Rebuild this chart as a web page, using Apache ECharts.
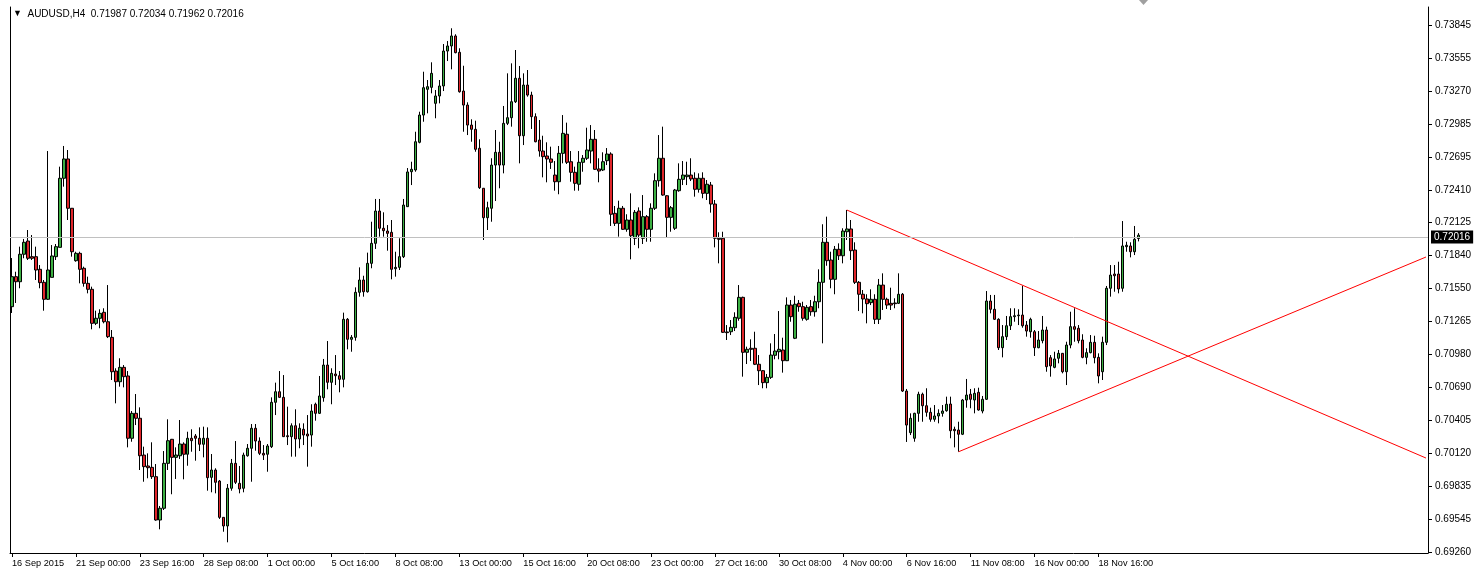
<!DOCTYPE html>
<html><head><meta charset="utf-8">
<script src="https://cdn.jsdelivr.net/npm/echarts@6/dist/echarts.min.js"></script>
<style>html,body{margin:0;padding:0;background:#fff;}#c{width:1477px;height:581px;}</style>
</head><body><div id="c"></div>
<script>
// AUDUSD H4 candles (first bar 16 Sep 2015 08:00)
const open = [0.71394,0.71655,0.71611,0.71850,0.71965,0.71829,0.71829,0.71719,0.71606,0.71458,
0.71649,0.71829,0.71910,0.72511,0.72679,0.72250,0.71794,0.71858,0.71728,0.71597,
0.71545,0.71249,0.71293,0.71345,0.71263,0.71127,0.70834,0.70741,0.70866,0.70791,
0.70249,0.70466,0.70423,0.70103,0.70008,0.69996,0.69915,0.69538,0.69640,0.70031,
0.70240,0.70083,0.70097,0.70199,0.70110,0.70249,0.70269,0.70249,0.70197,0.70249,
0.69909,0.69973,0.69877,0.69561,0.69486,0.69814,0.70031,0.69857,0.69814,0.70097,
0.70162,0.70336,0.70225,0.70118,0.70110,0.70176,0.70562,0.70654,0.70605,0.70271,
0.70263,0.70358,0.70243,0.70327,0.70286,0.70277,0.70545,0.70466,0.70602,0.70886,
0.70736,0.70808,0.70793,0.70762,0.71284,0.71110,0.71127,0.71519,0.71626,0.71524,
0.71771,0.71945,0.72226,0.72076,0.72052,0.72041,0.71724,0.71736,0.71829,0.72264,
0.72568,0.72583,0.72824,0.73061,0.73285,0.73302,0.73163,0.73227,0.73314,0.73618,
0.73662,0.73749,0.73607,0.73270,0.73148,0.72974,0.72937,0.72772,0.72424,0.72168,
0.72250,0.72626,0.72737,0.72626,0.72989,0.73038,0.73177,0.73381,0.72881,0.73322,
0.73235,0.73047,0.72844,0.72748,0.72705,0.72679,0.72539,0.72481,0.72728,0.72894,
0.72655,0.72563,0.72459,0.72650,0.72685,0.72748,0.72850,0.72592,0.72583,0.72664,
0.72722,0.72206,0.72119,0.72250,0.72067,0.72148,0.71989,0.72226,0.71989,0.72177,
0.72067,0.72250,0.72490,0.72685,0.72359,0.72171,0.72076,0.72403,0.72502,0.72525,
0.72539,0.72511,0.72415,0.72511,0.72380,0.72452,0.72287,0.71989,0.71989,0.71174,
0.71176,0.71211,0.71293,0.71475,0.70997,0.71032,0.71032,0.70893,0.70837,0.70733,
0.70779,0.70971,0.71002,0.71017,0.70924,0.71408,0.71119,0.71423,0.71394,0.71284,
0.71394,0.71350,0.71437,0.71606,0.71954,0.71800,0.71632,0.71893,0.71837,0.72046,
0.72070,0.71887,0.71606,0.71502,0.71461,0.71429,0.71458,0.71284,0.71582,0.71458,
0.71423,0.71426,0.71423,0.71502,0.70660,0.70298,0.70249,0.70466,0.70632,0.70532,
0.70475,0.70414,0.70443,0.70466,0.70489,0.70547,0.70327,0.70321,0.70284,0.70582,
0.70632,0.70582,0.70649,0.70486,0.70588,0.71443,0.71371,0.71284,0.71037,0.71133,
0.71228,0.71307,0.71315,0.71321,0.71234,0.71176,0.71176,0.71037,0.71098,0.71191,
0.70950,0.70866,0.70945,0.70988,0.70828,0.71060,0.71220,0.71206,0.71104,0.70953,
0.70994,0.71084,0.70953,0.70828,0.71084,0.71554,0.71678,0.71678,0.71554,0.71916,
0.71922,0.71872,0.71987];
const close = [0.71655,0.71611,0.71850,0.71954,0.71815,0.71815,0.71713,0.71603,0.71458,0.71713,
0.71835,0.71916,0.72511,0.72679,0.72250,0.71872,0.71858,0.71719,0.71597,0.71545,
0.71249,0.71293,0.71336,0.71263,0.71133,0.70828,0.70741,0.70866,0.70785,0.70249,
0.70466,0.70423,0.70097,0.70002,0.69993,0.69915,0.69538,0.69640,0.70031,0.70228,
0.70083,0.70103,0.70199,0.70110,0.70249,0.70228,0.70249,0.70197,0.70249,0.69906,
0.69973,0.69866,0.69561,0.69486,0.69814,0.70031,0.69866,0.69808,0.70103,0.70162,
0.70336,0.70225,0.70118,0.70103,0.70182,0.70562,0.70654,0.70605,0.70263,0.70263,
0.70358,0.70243,0.70336,0.70277,0.70269,0.70486,0.70466,0.70617,0.70886,0.70736,
0.70814,0.70793,0.70762,0.71284,0.71110,0.71127,0.71519,0.71626,0.71524,0.71771,
0.71945,0.72226,0.72076,0.72055,0.72032,0.71719,0.71736,0.71829,0.72278,0.72566,
0.72589,0.72829,0.73061,0.73299,0.73308,0.73424,0.73227,0.73314,0.73618,0.73662,
0.73749,0.73604,0.73264,0.73148,0.72974,0.72937,0.72763,0.72429,0.72168,0.72255,
0.72626,0.72737,0.72626,0.72989,0.73038,0.73177,0.73381,0.72881,0.73322,0.73235,
0.73047,0.72829,0.72748,0.72699,0.72679,0.72650,0.72481,0.72728,0.72902,0.72650,
0.72563,0.72467,0.72650,0.72685,0.72757,0.72850,0.72589,0.72574,0.72655,0.72722,
0.72198,0.72119,0.72250,0.72067,0.72148,0.72011,0.72215,0.72017,0.72177,0.72067,
0.72250,0.72490,0.72685,0.72365,0.72171,0.72255,0.72409,0.72502,0.72539,0.72539,
0.72505,0.72415,0.72511,0.72380,0.72459,0.72287,0.71989,0.71980,0.71171,0.71168,
0.71214,0.71301,0.71475,0.70997,0.71023,0.71023,0.70893,0.70837,0.70733,0.70779,
0.70973,0.71008,0.71023,0.70924,0.71408,0.71307,0.71415,0.71394,0.71293,0.71388,
0.71350,0.71437,0.71606,0.71954,0.71794,0.71632,0.71893,0.71837,0.72052,0.72070,
0.71881,0.71606,0.71502,0.71461,0.71420,0.71458,0.71284,0.71582,0.71458,0.71408,
0.71408,0.71420,0.71502,0.70660,0.70364,0.70423,0.70466,0.70632,0.70532,0.70475,
0.70414,0.70443,0.70466,0.70486,0.70545,0.70315,0.70315,0.70284,0.70582,0.70625,
0.70588,0.70640,0.70495,0.70588,0.71443,0.71371,0.71284,0.71037,0.71133,0.71228,
0.71307,0.71315,0.71321,0.71228,0.71182,0.71284,0.71037,0.71104,0.71191,0.70872,
0.70878,0.70939,0.70988,0.70828,0.71060,0.71220,0.71197,0.71098,0.70953,0.70994,
0.71084,0.70950,0.70791,0.71084,0.71554,0.71669,0.71663,0.71548,0.71922,0.71928,
0.71872,0.71980,0.72016];
const high = [0.71817,0.71698,0.71916,0.71983,0.72061,0.72017,0.71916,0.71756,0.71626,0.72748,
0.71930,0.71939,0.72612,0.72792,0.72757,0.72252,0.71872,0.71872,0.71742,0.71655,
0.71568,0.71359,0.71371,0.71380,0.71582,0.71191,0.70858,0.70945,0.70886,0.70834,
0.70486,0.70634,0.70518,0.70176,0.70118,0.70214,0.70025,0.69660,0.70138,0.70414,
0.70243,0.70170,0.70408,0.70214,0.70306,0.70327,0.70286,0.70344,0.70350,0.70344,
0.70112,0.69988,0.69886,0.69564,0.69851,0.70069,0.70225,0.70008,0.70124,0.70199,
0.70373,0.70373,0.70257,0.70190,0.70199,0.70605,0.70733,0.70834,0.70799,0.70524,
0.70379,0.70501,0.70379,0.70379,0.70451,0.70545,0.70559,0.70791,0.70939,0.71095,
0.70858,0.70973,0.70834,0.71342,0.71295,0.71147,0.71562,0.71736,0.71663,0.71864,
0.72133,0.72331,0.72331,0.72215,0.72104,0.72148,0.71872,0.71989,0.72331,0.72600,
0.72655,0.72916,0.73090,0.73438,0.73366,0.73520,0.73279,0.73366,0.73679,0.73705,
0.73816,0.73764,0.73642,0.73490,0.73172,0.73024,0.73012,0.72850,0.72426,0.72307,
0.72685,0.72931,0.72829,0.73140,0.73424,0.73511,0.73627,0.73488,0.73424,0.73453,
0.73264,0.73076,0.73018,0.72881,0.72824,0.72786,0.72661,0.72792,0.73061,0.72995,
0.72748,0.72612,0.72748,0.72713,0.72951,0.72974,0.72931,0.72685,0.72737,0.72774,
0.72737,0.72270,0.72316,0.72270,0.72198,0.72380,0.72235,0.72258,0.72365,0.72191,
0.72293,0.72554,0.72887,0.72960,0.72365,0.72270,0.72418,0.72641,0.72661,0.72655,
0.72685,0.72563,0.72554,0.72563,0.72496,0.72479,0.72322,0.72041,0.72046,0.71234,
0.71278,0.71345,0.71582,0.71481,0.71046,0.71110,0.71176,0.70973,0.70843,0.70808,
0.71075,0.71156,0.71356,0.71124,0.71475,0.71452,0.71489,0.71452,0.71437,0.71408,
0.71452,0.71489,0.71719,0.72111,0.72177,0.71872,0.71922,0.71945,0.72076,0.72235,
0.72148,0.71954,0.71617,0.71539,0.71502,0.71545,0.71502,0.71635,0.71684,0.71472,
0.71559,0.71467,0.71684,0.71513,0.70678,0.70466,0.70471,0.70654,0.70646,0.70684,
0.70515,0.70538,0.70501,0.70538,0.70611,0.70611,0.70350,0.70393,0.70591,0.70765,
0.70678,0.70684,0.70689,0.70617,0.71530,0.71496,0.71496,0.71293,0.71234,0.71313,
0.71380,0.71380,0.71371,0.71576,0.71269,0.71298,0.71191,0.71182,0.71313,0.71220,
0.70973,0.71002,0.71017,0.70991,0.71089,0.71350,0.71380,0.71234,0.71154,0.71032,
0.71147,0.71141,0.70988,0.71133,0.71574,0.71756,0.71756,0.71785,0.72139,0.71959,
0.71954,0.72096,0.72034];
const low = [0.71339,0.71426,0.71554,0.71815,0.71800,0.71800,0.71626,0.71554,0.71359,0.71452,
0.71649,0.71800,0.71910,0.72438,0.72148,0.71829,0.71785,0.71597,0.71568,0.71510,
0.71197,0.71234,0.71206,0.71249,0.71121,0.70756,0.70553,0.70698,0.70692,0.70170,
0.70219,0.70364,0.69973,0.69871,0.69901,0.69895,0.69532,0.69457,0.69625,0.69973,
0.69762,0.69895,0.70069,0.69892,0.70010,0.70132,0.70054,0.70138,0.70083,0.69793,
0.69779,0.69770,0.69547,0.69436,0.69344,0.69793,0.69851,0.69770,0.69779,0.70089,
0.69871,0.70141,0.70103,0.70060,0.69958,0.70164,0.70451,0.70599,0.70260,0.70190,
0.70089,0.70089,0.70162,0.70190,0.70002,0.70176,0.70402,0.70460,0.70567,0.70675,
0.70545,0.70712,0.70649,0.70692,0.71023,0.71002,0.71098,0.71481,0.71481,0.71516,
0.71728,0.71896,0.72003,0.72003,0.71881,0.71632,0.71655,0.71713,0.71817,0.72261,
0.72452,0.72568,0.72815,0.73003,0.73076,0.73250,0.73033,0.73163,0.73270,0.73531,
0.73459,0.73598,0.73256,0.72916,0.72887,0.72829,0.72742,0.72418,0.71974,0.72061,
0.72133,0.72313,0.72424,0.72554,0.72974,0.72960,0.73166,0.72641,0.72800,0.73221,
0.72940,0.72824,0.72699,0.72519,0.72476,0.72592,0.72403,0.72372,0.72641,0.72635,
0.72481,0.72403,0.72403,0.72568,0.72670,0.72641,0.72583,0.72476,0.72574,0.72626,
0.72096,0.72096,0.72003,0.72061,0.72046,0.71806,0.71930,0.71902,0.71939,0.71959,
0.71959,0.72235,0.72438,0.72359,0.71997,0.72046,0.72061,0.72394,0.72452,0.72452,
0.72487,0.72351,0.72386,0.72337,0.72322,0.72212,0.71910,0.71771,0.71165,0.71104,
0.71147,0.71182,0.71272,0.70785,0.70895,0.70921,0.70886,0.70712,0.70684,0.70684,
0.70765,0.70936,0.70936,0.70820,0.70921,0.71263,0.71112,0.71350,0.71272,0.71272,
0.71315,0.71307,0.71380,0.71075,0.71750,0.71554,0.71502,0.71800,0.71771,0.71974,
0.71800,0.71591,0.71356,0.71336,0.71249,0.71408,0.71243,0.71243,0.71365,0.71374,
0.71365,0.71380,0.71417,0.70652,0.70217,0.70277,0.70219,0.70393,0.70393,0.70437,
0.70393,0.70393,0.70379,0.70437,0.70480,0.70249,0.70170,0.70132,0.70277,0.70515,
0.70510,0.70466,0.70489,0.70466,0.70582,0.71336,0.71278,0.71017,0.70953,0.71104,
0.71191,0.71263,0.71234,0.71211,0.71133,0.71124,0.70965,0.71032,0.71075,0.70828,
0.70785,0.70858,0.70901,0.70814,0.70712,0.71032,0.71089,0.71075,0.70945,0.70893,
0.70988,0.70901,0.70727,0.70756,0.71060,0.71481,0.71524,0.71510,0.71524,0.71872,
0.71823,0.71843,0.71962];

const symbolTitle = 'AUDUSD,H4';
const lastBar = [0.71987, 0.72034, 0.71962, 0.72016]; // O H L C
const lastPrice = 0.72016;

const tickIdx  = [0,16,32,48,64,80,96,112,128,144,160,176,192,208,224,240,256,272];
const tickText = ['16 Sep 2015','21 Sep 00:00','23 Sep 16:00','28 Sep 08:00','1 Oct 00:00','5 Oct 16:00',
  '8 Oct 08:00','13 Oct 00:00','15 Oct 16:00','20 Oct 08:00','23 Oct 00:00','27 Oct 16:00',
  '30 Oct 08:00','4 Nov 00:00','6 Nov 16:00','11 Nov 08:00','16 Nov 00:00','18 Nov 16:00'];
const priceTicks = [0.69260,0.69545,0.69835,0.70120,0.70405,0.70690,0.70980,0.71265,0.71550,
  0.71840,0.72125,0.72410,0.72695,0.72985,0.73270,0.73555,0.73845];

// trend lines drawn on the chart: [bar index, price]
const trendDown = [[209, 0.72235], [354, 0.70077]];
const trendUp   = [[237, 0.70132], [354, 0.71826]];

const nSlots = 355;        // bars + chart shift space
const yMin = 0.692509, yMax = 0.740011;

const cats = Array.from({length: nSlots}, (_, i) => String(i));
const candles = open.map((o, i) => [o, close[i], low[i], high[i]]);
const labelMap = {};
tickIdx.forEach((k, j) => labelMap[k] = tickText[j]);

const FONT = 'Liberation Sans';
const chart = echarts.init(document.getElementById('c'), null, {renderer: 'canvas'});
chart.setOption({
  animation: false,
  backgroundColor: '#ffffff',
  textStyle: {fontFamily: FONT},
  title: {
    text: '{t|▼}  ' + symbolTitle + '  ' + lastBar.map(v => v.toFixed(5)).join(' '),
    left: 8, top: 4,
    textStyle: {fontSize: 10, fontWeight: 'normal', color: '#000', fontFamily: FONT,
      rich: {t: {fontSize: 9, color: '#000'}}}
  },
  grid: {left: 10, right: 49, top: 7, bottom: 28, containLabel: false},
  xAxis: {
    type: 'category', data: cats, boundaryGap: true,
    axisLine: {show: true, lineStyle: {color: '#000', width: 1}},
    axisTick: {show: true, alignWithLabel: true, interval: (i) => labelMap[i] !== undefined, length: 4, lineStyle: {color: '#000'}},
    axisLabel: {
      interval: (i) => labelMap[i] !== undefined,
      formatter: (v) => labelMap[+v],
      align: 'left', color: '#000', fontSize: 9.2, margin: 6, fontFamily: FONT
    },
    splitLine: {show: false}
  },
  yAxis: [{
    type: 'value', position: 'right', min: yMin, max: yMax, scale: true,
    axisLine: {show: true, lineStyle: {color: '#000', width: 1}},
    axisTick: {show: true, customValues: priceTicks, length: 4, lineStyle: {color: '#000'}},
    axisLabel: {customValues: priceTicks, formatter: (v) => v.toFixed(5), color: '#000', fontSize: 10, margin: 7, fontFamily: FONT},
    splitLine: {show: false}
  }, {
    type: 'value', position: 'left', min: yMin, max: yMax,
    axisLine: {show: true, onZero: false, lineStyle: {color: '#000', width: 1}},
    axisTick: {show: false}, axisLabel: {show: false}, splitLine: {show: false}
  }],
  series: [{
    type: 'candlestick', data: candles, yAxisIndex: 0, barWidth: 3,
    itemStyle: {color: '#3cb043', color0: '#e0262b', borderColor: '#000', borderColor0: '#000', borderWidth: 1},
    markLine: {
      silent: true, symbol: ['none', 'none'], animation: false,
      lineStyle: {color: '#c0c0c0', type: 'solid', width: 1},
      label: {show: true, position: 'end', formatter: lastPrice.toFixed(5), color: '#fff', backgroundColor: '#000',
        padding: [2, 3, 1, 3], fontSize: 10, distance: 3, fontFamily: FONT},
      data: [{yAxis: lastPrice}]
    }
  }, {
    type: 'line', data: trendDown, yAxisIndex: 0, symbol: 'none', silent: true,
    lineStyle: {color: '#ff0000', width: 1}
  }, {
    type: 'line', data: trendUp, yAxisIndex: 0, symbol: 'none', silent: true,
    lineStyle: {color: '#ff0000', width: 1}
  }],
  graphic: [{type: 'polygon', shape: {points: [[1139, 0], [1148, 0], [1143.5, 5]]}, style: {fill: '#a0a0a0'}}]
});
</script></body></html>
